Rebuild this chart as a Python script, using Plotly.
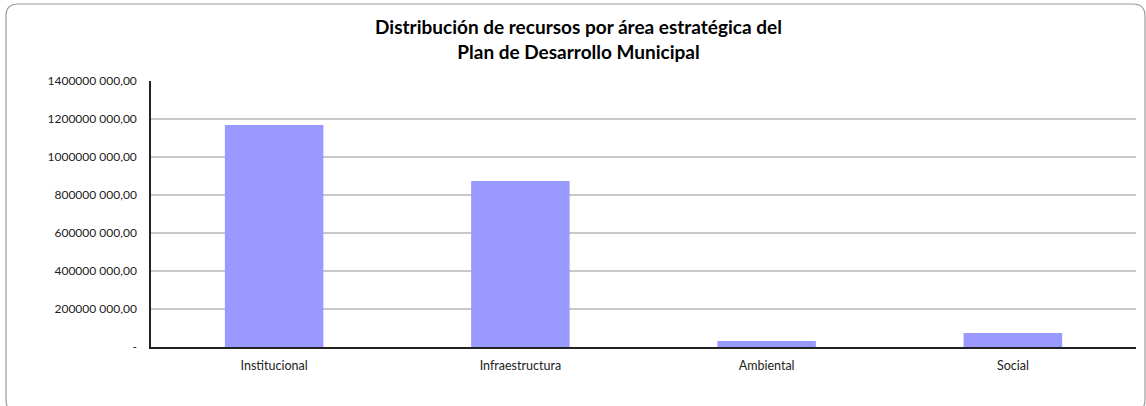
import plotly.graph_objects as go

categories = ["Institucional", "Infraestructura", "Ambiental", "Social"]
values = [1168000000, 874000000, 32000000, 74000000]
tick_vals = [0, 200000000, 400000000, 600000000, 800000000, 1000000000, 1200000000, 1400000000]
tick_text = ["-", "200000 000,00", "400000 000,00", "600000 000,00", "800000 000,00",
             "1000000 000,00", "1200000 000,00", "1400000 000,00"]
title = "<b>Distribución de recursos por área estratégica del<br>Plan de Desarrollo Municipal</b>"

W, H = 1146, 406
L, R, T, B = 151, 10, 81, 59
pw, ph = W - L - R, H - T - B

def px(x):
    return (x - L) / pw

def py(y):
    return (H - B - y) / ph

def rounded_rect(x0, y0, x1, y1, r):
    pts = [
        f"M {px(x0 + r)} {py(y0)}",
        f"L {px(x1 - r)} {py(y0)}",
        f"Q {px(x1)} {py(y0)} {px(x1)} {py(y0 + r)}",
        f"L {px(x1)} {py(y1 - r)}",
        f"Q {px(x1)} {py(y1)} {px(x1 - r)} {py(y1)}",
        f"L {px(x0 + r)} {py(y1)}",
        f"Q {px(x0)} {py(y1)} {px(x0)} {py(y1 - r)}",
        f"L {px(x0)} {py(y0 + r)}",
        f"Q {px(x0)} {py(y0)} {px(x0 + r)} {py(y0)}",
        "Z",
    ]
    return " ".join(pts)

fig = go.Figure(go.Bar(
    x=categories, y=values,
    marker=dict(color="#9999FF", line=dict(width=0)),
    width=0.4,
))

font_family = "Lato, 'Open Sans', sans-serif"

fig.update_layout(
    width=W, height=H,
    margin=dict(l=L, r=R, t=T, b=B),
    paper_bgcolor="white", plot_bgcolor="white",
    showlegend=False,
    title=dict(text=title, x=578.5 / W, xanchor="center",
               y=1 - 34 / H, yanchor="middle",
               font=dict(family=font_family, size=19, color="black")),
    font=dict(family=font_family, size=12, color="#222222"),
    xaxis=dict(showline=True, linecolor="#222222", linewidth=1.5,
               ticks="", tickfont=dict(size=12.5, color="#222222"),
               ticklabelstandoff=6,
               range=[-0.5, 3.5]),
    yaxis=dict(range=[0, 1400000000], tickvals=tick_vals, ticktext=tick_text,
               showgrid=True, gridcolor="#C8C8C8", gridwidth=1.5,
               showline=True, linecolor="#222222", linewidth=1.5,
               ticks="", ticklen=0, tickfont=dict(size=12, color="#222222"),
               ticklabelstandoff=10,
               zeroline=False),
    shapes=[dict(type="path", xref="paper", yref="paper",
                 path=rounded_rect(6, 4, 1145, 412, 12),
                 line=dict(color="#9A9A9A", width=1.2), fillcolor="rgba(0,0,0,0)",
                 layer="below")],
)

fig.write_html("out.html", config={"displayModeBar": False},
               post_script="document.body.style.margin='0px';document.body.style.overflow='hidden';")
